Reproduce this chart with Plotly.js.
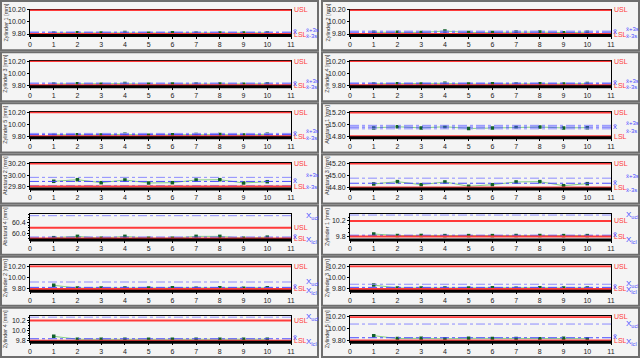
<!DOCTYPE html>
<html><head><meta charset="utf-8">
<script src="https://cdn.plot.ly/plotly-3.0.1.min.js"></script>
<style>html,body{margin:0;padding:0;background:#fff}#chart{width:640px;height:358px}</style>
</head><body><div id="chart"></div>
<script>
// panel order: left column top->bottom, then right column top->bottom
const titles = ['Zylinder 1 [mm]','Zylinder 3 [mm]','Zylinder 5 [mm]','Abstand 2 [mm]','Abstand 4 [mm]','Zylinder 2 [mm]','Zylinder 4 [mm]',
                'Zylinder 2 [mm]','Zylinder 4 [mm]','Abstand 1 [mm]','Abstand 3 [mm]','Zylinder 1 [mm]','Zylinder 3 [mm]','Zylinder 5 [mm]'];
const samples = [1,2,3,4,5,6,7,8,9,10];
const xTicks = [0,1,2,3,4,5,6,7,8,9,10,11];
const yMin = [9.775,9.775,9.775,29.76,59.74,9.76,9.77, 9.775,9.775,14.775,44.775,9.71,9.76,9.77];
const yMax = [10.208,10.208,10.208,30.21,60.72,10.22,10.28, 10.208,10.208,15.21,45.21,10.375,10.22,10.21];
const yTickVals = [[9.8,10.0,10.2],[9.8,10.0,10.2],[9.8,10.0,10.2],[29.8,30.0,30.2],[60.0,60.4],[9.8,10.0,10.2],[9.8,10.0,10.2],
                   [9.8,10.0,10.2],[9.8,10.0,10.2],[14.8,15.0,15.2],[44.8,45.0,45.2],[9.8,10.2],[9.8,10.0,10.2],[9.8,10.0,10.2]];
const yTickText = [['9.80','10.00','10.20'],['9.80','10.00','10.20'],['9.80','10.00','10.20'],['29.80','30.00','30.20'],['60.0','60.4'],['9.80','10.00','10.20'],['9.8','10.0','10.2'],
                   ['9.80','10.00','10.20'],['9.80','10.00','10.20'],['14.80','15.00','15.20'],['44.80','45.00','45.20'],['9.8','10.2'],['9.80','10.00','10.20'],['9.80','10.00','10.20']];
const minorTicks = [0,0,0,0,0.1,0,0.05, 0,0,0,0,0.1,0,0];
const usl = [10.2,10.2,10.2,30.2,60.2,10.2,10.2, 10.2,10.2,15.2,45.2,10.2,10.2,10.2];
const lsl = [9.8,9.8,9.8,29.8,59.8,9.8,9.8, 9.8,9.8,14.8,44.8,9.8,9.8,9.8];
const xbar = [9.818,9.819,9.828,29.89,59.85,9.828,9.84, 9.83,9.822,14.954,44.87,9.833,9.828,9.848];
const upperLim = [9.834,9.836,9.848,29.96,60.66,9.923,10.265, 9.848,9.838,14.983,44.955,10.35,9.883,10.08];
const lowerLim = [9.802,9.802,9.81,29.82,59.04,9.733,9.415, 9.808,9.806,14.925,44.785,9.316,9.773,9.616];
const limitKind = ['s','s','s','s','cl','cl','cl', 's','s','s','s','cl','cl','cl'];

const zyl1L = [9.818,9.820,9.816,9.824,9.814,9.820,9.818,9.817,9.815,9.820];
const zyl3L = [9.820,9.822,9.816,9.826,9.814,9.820,9.818,9.818,9.815,9.822];
const zyl5L = [9.826,9.826,9.820,9.834,9.816,9.826,9.830,9.828,9.820,9.834];
const abst2 = [29.892,29.920,29.868,29.915,29.863,29.868,29.915,29.920,29.863,29.885];
const abst4 = [59.83,59.88,59.81,59.88,59.81,59.81,59.88,59.88,59.81,59.85];
const zyl2B = [9.865,9.815,9.815,9.815,9.815,9.822,9.813,9.822,9.813,9.820];
const zyl4B = [9.888,9.832,9.830,9.830,9.830,9.830,9.830,9.830,9.830,9.832];
const zyl2R = [9.828,9.830,9.826,9.850,9.824,9.826,9.834,9.832,9.822,9.830];
const zyl4R = [9.822,9.824,9.820,9.830,9.818,9.822,9.823,9.822,9.820,9.826];
const abst1 = [14.940,14.960,14.940,14.960,14.930,14.940,14.955,14.955,14.940,14.945];
const abst3 = [44.858,44.897,44.846,44.892,44.819,44.846,44.892,44.897,44.829,44.863];
const zyl1B = [9.865,9.826,9.828,9.824,9.824,9.824,9.826,9.826,9.824,9.824];
const zyl3B = [9.868,9.818,9.815,9.818,9.816,9.822,9.814,9.822,9.815,9.818];
const zyl5B = [9.883,9.835,9.838,9.830,9.838,9.835,9.837,9.833,9.838,9.833];
const series = [zyl1L,zyl3L,zyl5L,abst2,abst4,zyl2B,zyl4B, zyl2R,zyl4R,abst1,abst3,zyl1B,zyl3B,zyl5B];

const W=640, H=358, panelH=H/7;
const RED='#ff3a3a', BLUE='#4a4aff', LBLUE='#8c8cff';
const traces=[], shapes=[], annotations=[];
const layout={width:W,height:H,margin:{l:0,r:0,t:0,b:0},paper_bgcolor:'#f4f4f4',plot_bgcolor:'#f4f4f4',
  showlegend:false,font:{family:'Liberation Sans, Arial, sans-serif',size:7,color:'#222'}};

for (let i=0;i<14;i++){
  const col = i<7?0:1, row = i%7, n=i+1;
  const xa = n===1?'x':'x'+n, ya = n===1?'y':'y'+n;
  const xk = n===1?'xaxis':'xaxis'+n, yk = n===1?'yaxis':'yaxis'+n;
  const px0 = col?350:30, px1 = col?611:291;
  const top = row*panelH+9.5, bot = row*panelH+35.5;
  layout[xk] = {domain:[px0/W,px1/W],anchor:ya,range:[0,11],tickvals:xTicks,ticks:'outside',ticklen:2,tickcolor:'#000',
    showgrid:false,zeroline:false,showline:true,linecolor:'#000',linewidth:1,mirror:true,tickfont:{size:7,color:'#222'}};
  const yax = {domain:[1-bot/H,1-top/H],anchor:xa,range:[yMin[i],yMax[i]],tickvals:yTickVals[i],ticktext:yTickText[i],
    ticks:'outside',ticklen:2,tickcolor:'#000',showgrid:false,zeroline:false,showline:true,linecolor:'#000',linewidth:1,mirror:true,
    tickfont:{size:7,color:'#222'}};
  if (minorTicks[i]) yax.minor = {dtick:minorTicks[i],ticks:'outside',ticklen:1.5,tickcolor:'#000'};
  layout[yk]=yax;

  // panel frame
  const fx0 = col?322:1, fx1 = col?639:318;
  shapes.push({type:'rect',xref:'paper',yref:'paper',x0:fx0/W,x1:fx1/W,y0:1-(row*panelH+1)/H,y1:1-((row+1)*panelH-1)/H,
    line:{color:'#6e6e6e',width:2},layer:'below'});

  const hl = (y,color,width,dash)=>{ if (y<yMin[i]||y>yMax[i]) return;
    shapes.push({type:'line',xref:xa+' domain',yref:ya,x0:0,x1:1,y0:y,y1:y,line:{color:color,width:width,dash:dash||'solid'},layer:'above'}); };
  hl(upperLim[i],LBLUE,1,'dashdot');
  hl(lowerLim[i],LBLUE,1,'dashdot');
  hl(xbar[i],BLUE,1,'dashdot');
  hl(usl[i],RED,2);
  hl(lsl[i],RED,2);
  shapes.push({type:'line',xref:xa+' domain',yref:ya+' domain',x0:0,x1:1,y0:0,y1:0,line:{color:'#000',width:3}});

  traces.push({x:samples,y:series[i],xaxis:xa,yaxis:ya,type:'scatter',mode:'lines+markers',
    line:{color:'#86cf86',width:1},marker:{symbol:'square',size:3.5,color:'#11612a'},hoverinfo:'skip'});

  const clamp = v => Math.min(Math.max(v,yMin[i]+0.02*(yMax[i]-yMin[i])),yMax[i]);
  const lab = (text,y,xd,color,size,yshift)=>annotations.push({text:text,xref:xa+' domain',yref:ya,x:xd,y:clamp(y),xanchor:'left',yanchor:'middle',
    showarrow:false,font:{size:size,color:color},yshift:yshift||0});
  lab('USL',usl[i],1.004,RED,7);
  lab('LSL',lsl[i],1.004,RED,7);
  lab('x\u0304',xbar[i],1.0,BLUE,8,1);
  if (limitKind[i]==='s'){
    lab('x\u0304+3s',upperLim[i],1.05,BLUE,6,2);
    lab('x\u0304-3s',lowerLim[i],1.05,BLUE,6,-2);
  } else {
    lab('X<sub>ucl</sub>',upperLim[i],1.05,BLUE,8);
    lab('X<sub>lcl</sub>',lowerLim[i],1.05,BLUE,8);
  }
  annotations.push({text:titles[i],xref:'paper',yref:'paper',x:((col?322:0)+5)/W,y:1-(row*panelH+22.5)/H,textangle:-90,
    showarrow:false,xanchor:'center',yanchor:'middle',font:{size:5.5,color:'#333'}});
}
layout.shapes=shapes; layout.annotations=annotations;
Plotly.newPlot('chart',traces,layout,{staticPlot:true,displayModeBar:false});
</script></body></html>
